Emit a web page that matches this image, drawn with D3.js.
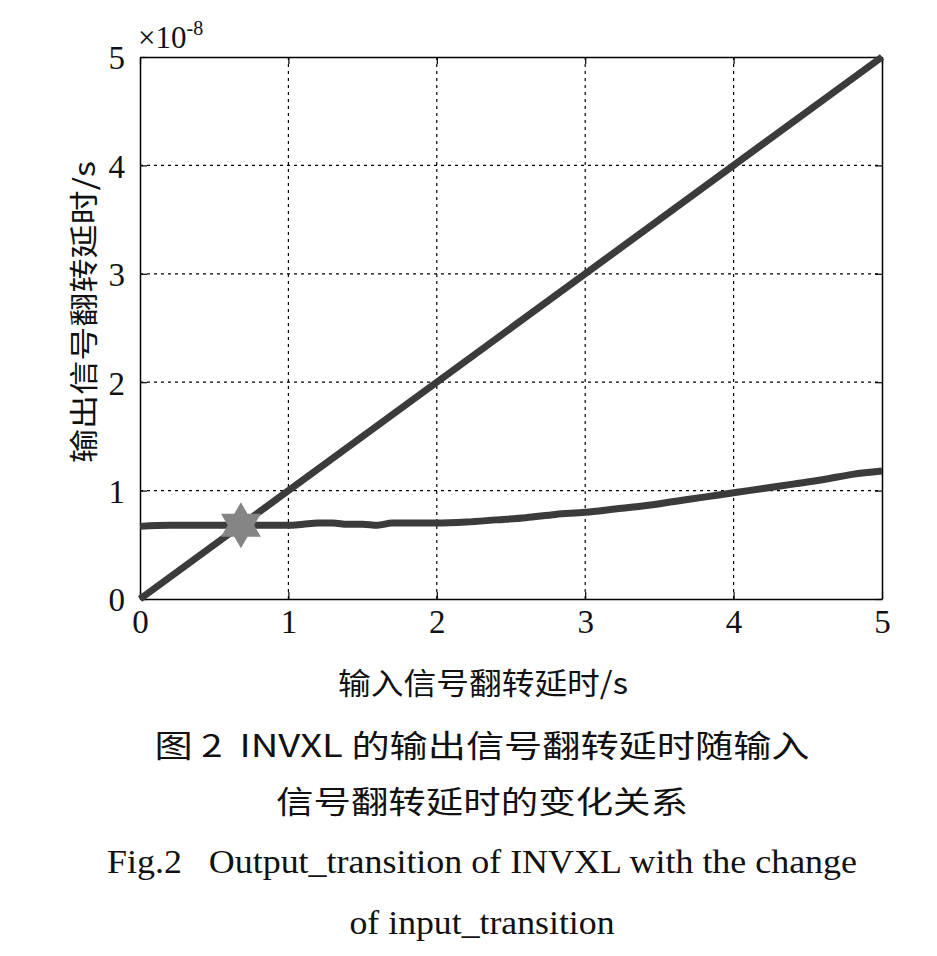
<!DOCTYPE html>
<html><head><meta charset="utf-8">
<script src="https://cdn.jsdelivr.net/npm/d3@7"></script>
<style>body{margin:0;background:#fff}svg{display:block}</style>
</head><body><svg id="c" width="937" height="956"></svg>
<script>
// Values in units of 1e-8 s
const xTicks = [0, 1, 2, 3, 4, 5];
const yTicks = [0, 1, 2, 3, 4, 5];
const refX = [0, 5];
const refY = [0, 5];
const outX = [0,0.2,0.4,0.6,0.8,1.0,1.1,1.2,1.3,1.4,1.5,1.6,1.7,1.8,1.9,2.0,2.2,2.4,2.6,2.8,3.0,3.2,3.4,3.6,3.8,4.0,4.2,4.4,4.6,4.8,5.0];
const outY = [0.67,0.68,0.68,0.68,0.68,0.68,0.69,0.70,0.70,0.69,0.69,0.68,0.70,0.70,0.70,0.70,0.71,0.73,0.75,0.78,0.80,0.83,0.86,0.90,0.94,0.98,1.02,1.06,1.10,1.15,1.18];
const starPt = [0.68, 0.68];
const yTitle = "输出信号翻转延时/s";
const xTitle = "输入信号翻转延时/s";
const captions = ["图 2  INVXL 的输出信号翻转延时随输入", "信号翻转延时的变化关系", "Fig.2   Output_transition of INVXL with the change", "of input_transition"];

const svg = d3.select("#c");
const L = 140, R = 882, T = 57, B = 599;
const x = d3.scaleLinear().domain([0, 5]).range([L, R]);
const y = d3.scaleLinear().domain([0, 5]).range([B, T]);
const serif = "'Liberation Serif','DejaVu Serif',serif";
const cjk = "'Noto Sans CJK SC',sans-serif";

// grid
const g = svg.append("g");
g.selectAll(".vg").data(xTicks.slice(1, -1)).join("line")
  .attr("x1", d => x(d)).attr("x2", d => x(d)).attr("y1", T).attr("y2", B)
  .attr("stroke", "#000").attr("stroke-width", 1.2).attr("stroke-dasharray", "3,4");
g.selectAll(".hg").data(yTicks.slice(1, -1)).join("line")
  .attr("y1", d => y(d)).attr("y2", d => y(d)).attr("x1", L).attr("x2", R)
  .attr("stroke", "#000").attr("stroke-width", 1.2).attr("stroke-dasharray", "3,4");

// axes (ticks inside)
const fmt = d3.format("d");
const xa = svg.append("g").attr("transform", `translate(0,${B})`)
  .call(d3.axisBottom(x).tickValues(xTicks).tickFormat(fmt).tickSizeInner(-7).tickSizeOuter(0).tickPadding(14));
const xa2 = svg.append("g").attr("transform", `translate(0,${T})`)
  .call(d3.axisTop(x).tickValues(xTicks).tickSizeInner(-7).tickSizeOuter(0).tickFormat(""));
const ya = svg.append("g").attr("transform", `translate(${L},0)`)
  .call(d3.axisLeft(y).tickValues(yTicks).tickFormat(fmt).tickSizeInner(-7).tickSizeOuter(0).tickPadding(15));
const ya2 = svg.append("g").attr("transform", `translate(${R},0)`)
  .call(d3.axisRight(y).tickValues(yTicks).tickSizeInner(-7).tickSizeOuter(0).tickFormat(""));
[xa, xa2, ya, ya2].forEach(a => {
  a.select(".domain").attr("stroke", "#000").attr("stroke-width", 1.5);
  a.selectAll(".tick line").attr("stroke", "#000").attr("stroke-width", 1.2);
  a.selectAll("text").attr("font-family", serif).attr("font-size", 33).attr("fill", "#111");
});
xa.selectAll("text").attr("dy", "0.6em");
ya.selectAll("text").attr("dy", "0.36em");

// lines
const line = d3.line().x(d => x(d[0])).y(d => y(d[1]));
svg.append("path").datum(d3.zip(refX, refY)).attr("d", line)
  .attr("fill", "none").attr("stroke", "#3b3b3b").attr("stroke-width", 7);
svg.append("path").datum(d3.zip(outX, outY)).attr("d", line.curve(d3.curveMonotoneX))
  .attr("fill", "none").attr("stroke", "#3b3b3b").attr("stroke-width", 7);

// hexagram marker
const r = 23, ri = r / Math.sqrt(3);
const pts = d3.range(12).map(i => {
  const a = -Math.PI / 2 + i * Math.PI / 6;
  const rr = i % 2 === 0 ? r : ri;
  return [rr * Math.cos(a), rr * Math.sin(a)];
});
svg.append("path")
  .attr("d", "M" + pts.map(p => p.join(",")).join("L") + "Z")
  .attr("transform", `translate(${x(starPt[0])},${y(starPt[1])})`)
  .attr("fill", "#858585");

// exponent label
const ex = svg.append("text").attr("x", 138).attr("y", 48)
  .attr("font-family", serif).attr("font-size", 31).attr("fill", "#111");
ex.append("tspan").text("×10");
ex.append("tspan").attr("dy", -13).attr("font-size", 20).text("-8");

// axis titles
svg.append("text").attr("transform", `translate(95,312) rotate(-90)`)
  .attr("text-anchor", "middle").attr("font-family", cjk).attr("font-size", 29).attr("fill", "#111")
  .attr("textLength", 302).attr("lengthAdjust", "spacingAndGlyphs")
  .text(yTitle);
svg.append("text").attr("x", 483).attr("y", 694)
  .attr("text-anchor", "middle").attr("font-family", cjk).attr("font-size", 30).attr("fill", "#111")
  .attr("textLength", 290).attr("lengthAdjust", "spacingAndGlyphs")
  .text(xTitle);

// captions
const capY = [757, 813, 873, 934];
const capW = [655, 412, 750, 265];
const capF = [cjk, cjk, serif, serif];
const capS = [31, 31, 33, 33];
svg.selectAll(".cap").data(captions).join("text")
  .attr("x", 482).attr("y", (d, i) => capY[i])
  .attr("text-anchor", "middle")
  .style("white-space", "pre")
  .attr("font-family", (d, i) => capF[i]).attr("font-size", (d, i) => capS[i])
  .attr("fill", "#111")
  .attr("textLength", (d, i) => capW[i]).attr("lengthAdjust", "spacingAndGlyphs")
  .text(d => d);
</script></body></html>
